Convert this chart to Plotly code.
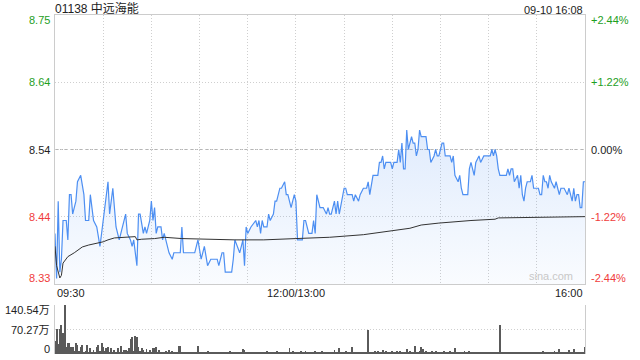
import plotly.graph_objects as go

# ---------------- data ----------------
stock_title = "01138 中远海能"
stamp = "09-10 16:08"
prev_close = 8.54
pct_levels = [0.0244, 0.0122, 0.0, -0.0122, -0.0244]
price_labels = ["8.75", "8.64", "8.54", "8.44", "8.33"]
pct_labels = ["+2.44%", "+1.22%", "0.00%", "-1.22%", "-2.44%"]
time_tick_pos = [0, 150, 330]
time_tick_labels = ["09:30", "12:00/13:00", "16:00"]
vol_tick_vals = [140.54, 70.27, 0]
vol_tick_labels = ["140.54万", "70.27万", "0"]

price_t = [0, 1, 2, 3, 4, 5, 7, 8, 9, 10, 11, 13, 14, 16, 18, 19, 21, 22, 24, 26,
           28, 29, 31, 33, 34, 36, 38, 40, 42, 44, 45, 47, 48, 49, 51, 52, 53, 55, 56, 57,
           59, 60, 61, 62, 63, 64, 66, 67, 68, 71, 73, 74, 78, 79, 80, 87, 89, 91, 93, 95,
           97, 101, 102, 104, 105, 106, 110, 111, 112, 115, 117, 118, 119, 120, 122, 125, 126, 127, 128, 129,
           130, 132, 133, 134, 136, 137, 138, 140, 141, 143, 144, 145, 146, 147, 149, 150, 151, 154, 155, 156,
           158, 160, 161, 162, 163, 165, 167, 169, 170, 171, 172, 174, 175, 176, 177, 180, 181, 182, 185, 186,
           187, 189, 190, 192, 194, 195, 196, 198, 201, 202, 203, 204, 205, 206, 209, 210, 211, 213, 214, 215,
           216, 217, 218, 219, 220, 222, 223, 224, 225, 226, 227, 228, 231, 232, 233, 234, 236, 237, 238, 239,
           240, 241, 242, 243, 246, 247, 248, 249, 251, 252, 253, 254, 257, 258, 259, 260, 261, 262, 264, 265,
           267, 271, 272, 273, 274, 275, 276, 277, 281, 282, 283, 284, 285, 286, 288, 289, 290, 291, 292, 293,
           294, 296, 297, 298, 300, 301, 302, 303, 304, 305, 306, 307, 308, 309, 311, 312, 313, 314, 315, 317,
           319, 320, 321, 322, 323, 324, 325, 326, 327, 328, 329, 330]
price_v = [8.41, 8.34, 8.46, 8.35, 8.37, 8.43, 8.43, 8.40, 8.47, 8.47, 8.44, 8.46, 8.49, 8.50, 8.47, 8.43, 8.43, 8.47, 8.43, 8.42,
           8.39, 8.41, 8.45, 8.49, 8.44, 8.48, 8.42, 8.40, 8.42, 8.44, 8.41, 8.40, 8.39, 8.40, 8.36, 8.44, 8.44, 8.41, 8.42, 8.41,
           8.43, 8.46, 8.43, 8.45, 8.41, 8.42, 8.42, 8.40, 8.41, 8.38, 8.37, 8.38, 8.38, 8.42, 8.38, 8.38, 8.40, 8.37, 8.39, 8.36,
           8.37, 8.37, 8.36, 8.38, 8.38, 8.35, 8.35, 8.37, 8.40, 8.38, 8.40, 8.36, 8.42, 8.41, 8.42, 8.43, 8.42, 8.43, 8.41, 8.43,
           8.42, 8.42, 8.44, 8.43, 8.44, 8.46, 8.46, 8.48, 8.48, 8.49, 8.47, 8.47, 8.46, 8.45, 8.47, 8.46, 8.40, 8.40, 8.43, 8.43,
           8.41, 8.41, 8.43, 8.41, 8.47, 8.45, 8.45, 8.44, 8.45, 8.44, 8.44, 8.46, 8.44, 8.46, 8.44, 8.48, 8.48, 8.47, 8.47, 8.46,
           8.47, 8.46, 8.47, 8.48, 8.48, 8.49, 8.47, 8.50, 8.50, 8.52, 8.52, 8.53, 8.51, 8.52, 8.52, 8.51, 8.52, 8.52, 8.54, 8.52,
           8.55, 8.51, 8.51, 8.57, 8.54, 8.56, 8.55, 8.55, 8.53, 8.54, 8.57, 8.56, 8.56, 8.54, 8.54, 8.52, 8.53, 8.54, 8.53, 8.53,
           8.54, 8.55, 8.55, 8.53, 8.53, 8.52, 8.53, 8.50, 8.49, 8.50, 8.48, 8.47, 8.47, 8.51, 8.52, 8.51, 8.50, 8.52, 8.53, 8.52,
           8.53, 8.53, 8.54, 8.53, 8.54, 8.53, 8.51, 8.50, 8.50, 8.51, 8.50, 8.51, 8.51, 8.49, 8.50, 8.48, 8.50, 8.47, 8.46, 8.48,
           8.49, 8.49, 8.50, 8.48, 8.48, 8.48, 8.47, 8.47, 8.50, 8.49, 8.49, 8.48, 8.50, 8.49, 8.48, 8.49, 8.48, 8.47, 8.48, 8.48,
           8.47, 8.48, 8.47, 8.46, 8.48, 8.46, 8.47, 8.47, 8.45, 8.45, 8.49, 8.49]

avg_t = [0, 1, 3, 4, 5, 8, 12, 17, 21, 27, 30, 33, 37, 50, 51, 54, 62, 68, 79, 112,
         130, 150, 171, 192, 201, 210, 221, 228, 239, 259, 274, 276, 301, 330]
avg_v = [8.39, 8.36, 8.341, 8.345, 8.364, 8.374, 8.380, 8.389, 8.392, 8.395, 8.397, 8.400, 8.403, 8.405, 8.400, 8.401, 8.402, 8.404, 8.402, 8.400,
         8.400, 8.402, 8.404, 8.408, 8.411, 8.415, 8.418, 8.423, 8.426, 8.430, 8.432, 8.434, 8.435, 8.436]

volume = [37, 72, 30, 72, 83, 59, 140.54, 21, 31, 31,
          21, 21, 8, 31, 26, 9, 21, 26, 6, 8,
          27, 5, 16, 7, 11, 6, 21, 26, 9, 31,
          21, 8, 16, 21, 5, 16, 7, 11, 4, 16,
          6, 23, 5, 11, 12, 8, 16, 43, 50, 9,
          52, 50, 21, 8, 16, 12, 6, 13, 7, 12,
          5, 16, 16, 20, 6, 12, 4, 7, 5, 10,
          6, 12, 4, 10, 5, 7, 3, 24, 24, 5,
          6, 4, 3, 5, 4, 3, 6, 4, 5, 24,
          4, 5, 3, 6, 4, 8, 3, 5, 4, 6,
          3, 7, 4, 5, 3, 6, 4, 5, 3, 8,
          6, 4, 5, 3, 7, 4, 5, 13, 12, 4,
          6, 3, 5, 4, 6, 3, 5, 7, 4, 3,
          5, 4, 8, 3, 5, 4, 6, 3, 8, 4,
          5, 3, 6, 4, 7, 5, 16, 4, 8, 6,
          5, 7, 4, 8, 6, 5, 9, 4, 3, 6,
          4, 5, 8, 3, 6, 4, 10, 5, 3, 6,
          4, 7, 3, 5, 11, 6, 4, 16, 5, 3,
          6, 8, 4, 5, 3, 20, 6, 4, 7, 3,
          5, 6, 3, 4, 5, 69, 4, 6, 3, 8,
          5, 9, 4, 6, 12, 3, 10, 5, 7, 4,
          10, 6, 5, 8, 4, 10, 3, 6, 7, 13,
          5, 8, 4, 6, 22, 7, 5, 10, 20, 14,
          6, 9, 4, 7, 5, 8, 3, 10, 6, 4,
          7, 5, 8, 4, 6, 3, 9, 5, 4, 18,
          6, 4, 7, 3, 5, 8, 4, 6, 8, 3,
          5, 6, 4, 3, 7, 5, 4, 6, 3, 5,
          4, 6, 3, 5, 4, 6, 3, 83, 4, 5,
          3, 4, 6, 3, 5, 6, 4, 3, 5, 4,
          3, 5, 4, 6, 3, 5, 4, 3, 6, 4,
          5, 3, 4, 6, 10, 4, 5, 3, 6, 4,
          5, 8, 4, 6, 13, 5, 3, 7, 4, 6,
          12, 4, 5, 14, 6, 4, 3, 5, 6, 5,
          21]

# ---------------- styling ----------------
FONT = "Liberation Sans, Arial, Noto Sans CJK SC, sans-serif"
GREEN = "#1ea01e"
RED = "#f03c3c"
BLACK = "#222222"
GRID = "#cfcfcf"
level_prices = [prev_close * (1 + p) for p in pct_levels]
level_colors = [GREEN, GREEN, BLACK, RED, RED]
ymin, ymax = level_prices[-1], level_prices[0]

fig = go.Figure()

fig.add_trace(go.Scatter(
    x=price_t, y=price_v, mode="lines",
    line=dict(color="#4d8ff2", width=1.2),
    fill="tozeroy",
    fillgradient=dict(type="vertical",
                      colorscale=[[0, "rgba(77,143,242,0.03)"], [1, "rgba(77,143,242,0.18)"]],
                      start=ymin, stop=8.58),
    xaxis="x", yaxis="y", hoverinfo="skip"))

fig.add_trace(go.Scatter(
    x=avg_t, y=avg_v, mode="lines",
    line=dict(color="#333333", width=1),
    xaxis="x", yaxis="y", hoverinfo="skip"))

fig.add_trace(go.Bar(
    x=list(range(len(volume))), y=volume,
    marker=dict(color="#5a5a5a", line=dict(width=0)),
    width=0.55, xaxis="x2", yaxis="y2", hoverinfo="skip"))

main_bottom = (360 - 284 - 6) / 339.0
vol_top = (360 - 305 - 6) / 339.0

fig.update_layout(
    width=640, height=360,
    margin=dict(l=55, r=55, t=15, b=6),
    paper_bgcolor="white", plot_bgcolor="white",
    showlegend=False, bargap=0,
    font=dict(family=FONT, size=11, color=BLACK),
    xaxis=dict(domain=[0, 1], range=[0, 330], tickvals=list(range(0, 331, 30)),
               showticklabels=False, ticks="", showgrid=True, gridcolor=GRID,
               griddash="1px,2px", gridwidth=1, zeroline=False,
               showline=True, mirror=True, linecolor="#cccccc", linewidth=1, anchor="y"),
    yaxis=dict(domain=[main_bottom, 1], range=[ymin, ymax], tickvals=level_prices,
               showticklabels=False, ticks="", showgrid=True, gridcolor=GRID,
               griddash="1px,2px", gridwidth=1, zeroline=False,
               showline=True, mirror=True, linecolor="#cccccc", linewidth=1, anchor="x"),
    xaxis2=dict(domain=[0, 1], range=[0, 330], matches="x", showticklabels=False, ticks="",
                showgrid=False, zeroline=False, showline=False, anchor="y2"),
    yaxis2=dict(domain=[0, vol_top], range=[0, vol_tick_vals[0]], tickvals=vol_tick_vals[:2],
                showticklabels=False, ticks="", showgrid=True, gridcolor=GRID,
                griddash="1px,2px", zeroline=False,
                showline=True, mirror=True, linecolor="#cccccc", linewidth=1, anchor="x2"),
)

# dashed previous-close line
fig.add_shape(type="line", xref="x", yref="y", x0=0, x1=330, y0=prev_close, y1=prev_close,
              line=dict(color="#b5b5b5", width=1, dash="3px,2px"), layer="below")

ann = []
anchors = ["top", "middle", "middle", "middle", "bottom"]
yshifts = [3, 0, 0, 0, -2]
for yv, lab, pl, col, anc, ys in zip(level_prices, price_labels, pct_labels, level_colors, anchors, yshifts):
    ann.append(dict(x=0, xref="paper", y=yv, yref="y", text=lab, showarrow=False,
                    xanchor="right", yanchor=anc, xshift=-3, yshift=ys, font=dict(color=col, size=11)))
    ann.append(dict(x=1, xref="paper", y=yv, yref="y", text=pl, showarrow=False,
                    xanchor="left", yanchor=anc, xshift=4, yshift=ys, font=dict(color=col, size=11)))

for xv, lab, xa in zip(time_tick_pos, time_tick_labels, ["left", "center", "right"]):
    ann.append(dict(x=xv, xref="x", y=main_bottom, yref="paper", text=lab, showarrow=False,
                    xanchor=xa, yanchor="top", yshift=-1, font=dict(color=BLACK, size=11)))

for yv, lab, anc, ys in zip(vol_tick_vals, vol_tick_labels, ["top", "middle", "bottom"], [3, 0, -3]):
    ann.append(dict(x=0, xref="paper", y=yv, yref="y2", text=lab, showarrow=False,
                    xanchor="right", yanchor=anc, xshift=-3, yshift=ys, font=dict(color=BLACK, size=11)))

ann.append(dict(x=0, xref="paper", y=1, yref="paper", text=stock_title, showarrow=False,
                xanchor="left", yanchor="bottom", xshift=-2, yshift=-3, font=dict(color=BLACK, size=12)))
ann.append(dict(x=1, xref="paper", y=1, yref="paper", text=stamp, showarrow=False,
                xanchor="right", yanchor="bottom", yshift=-3, font=dict(color=BLACK, size=11)))
ann.append(dict(x=330, xref="x", y=ymin, yref="y", text="sina.com", showarrow=False,
                xanchor="right", yanchor="bottom", xshift=-10, font=dict(color="#c8c8c8", size=11)))

fig.update_layout(annotations=ann)
fig.write_html("out.html", config={"displayModeBar": False},
               post_script="document.body.style.margin='0';")
